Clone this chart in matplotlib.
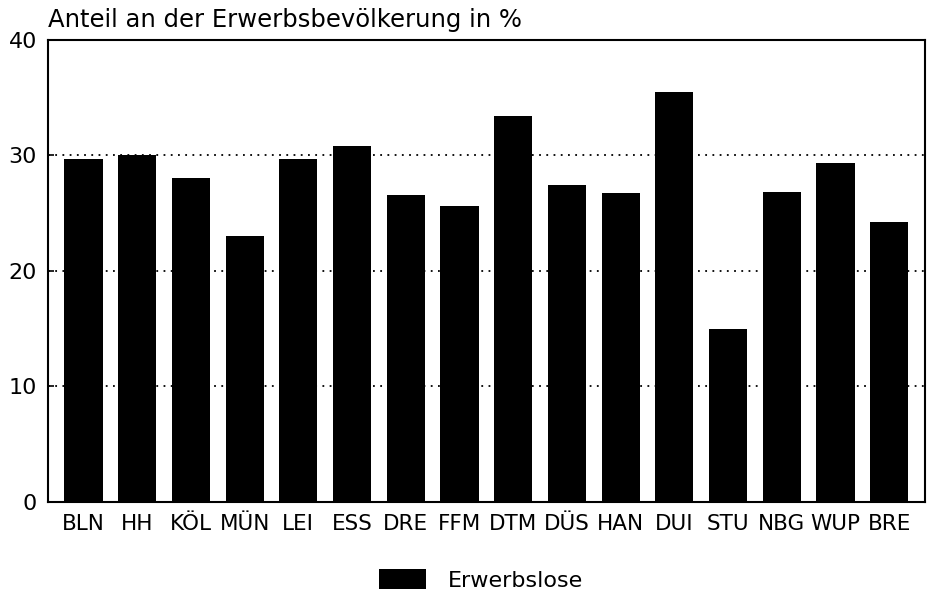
import numpy as np
import matplotlib
matplotlib.use("Agg")
from matplotlib import pyplot as plt

staedte = ["BLN", "HH", "KÖL", "MÜN", "LEI", "ESS", "DRE", "FFM",
           "DTM", "DÜS", "HAN", "DUI", "STU", "NBG", "WUP", "BRE"]
erwerbslose = [29.7, 30.0, 28.0, 23.0, 29.7, 30.8, 26.6, 25.6,
               33.4, 27.4, 26.7, 35.5, 15.0, 26.8, 29.3, 24.2]
y_ticks = [0, 10, 20, 30, 40]

plt.rcParams["font.family"] = ["DejaVu Sans"]

fig = plt.figure(figsize=(9.34, 6.04), dpi=100)
ax = fig.add_axes([0.0514, 0.169, 0.9386, 0.765])

x = np.arange(len(staedte))
ax.bar(x, erwerbslose, width=0.71, color="black", zorder=2, label="Erwerbslose")

ax.set_xlim(-0.66, len(staedte) - 1 + 0.66)
ax.set_ylim(0, 40)
ax.set_yticks(y_ticks)
ax.set_xticks(x)
ax.set_xticklabels(staedte, fontsize=15.5)
ax.tick_params(axis="x", length=0, pad=9)
ax.tick_params(axis="y", direction="in", length=4, width=1.2, labelsize=16, pad=8)

# gepunktete Hilfslinien hinter den Balken
for v in y_ticks[1:-1]:
    ax.axhline(v, color="black", lw=1.3, ls=(0, (1, 3)), zorder=1)

for s in ax.spines.values():
    s.set_linewidth(1.5)
    s.set_color("black")

fig.text(0.0514, 0.9545, "Anteil an der Erwerbsbevölkerung in %", fontsize=17.5,
         ha="left", va="baseline")

fig.legend(loc="center", bbox_to_anchor=(0.515, 0.04), frameon=False,
           fontsize=16, handlelength=2.1, handleheight=1.0, handletextpad=1.0)

fig.savefig("out.png", dpi=100)
